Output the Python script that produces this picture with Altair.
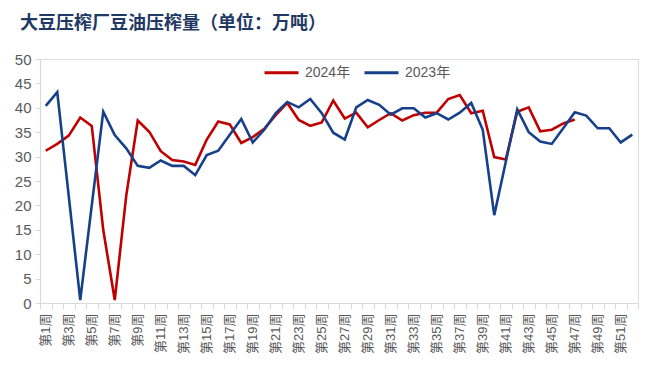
import altair as alt
import pandas as pd

weeks = [f"第{i}周" for i in range(1, 53)]

y2023 = [40.4, 43.2, 21.9, 0.6, 20.0, 39.2, 34.4, 31.7, 28.1, 27.7,
         29.2, 28.1, 28.1, 26.2, 30.3, 31.2, 34.5, 37.7, 32.9, 35.5,
         38.9, 41.2, 40.1, 41.8, 38.9, 34.9, 33.5, 40.1, 41.6, 40.6,
         38.6, 39.9, 39.9, 38.0, 38.9, 37.6, 39.0, 41.0, 35.5, 18.0,
         28.9, 39.7, 35.0, 33.1, 32.6, 35.8, 39.1, 38.4, 35.8, 35.8,
         32.9, 34.5]

y2024 = [31.2, 32.6, 34.3, 38.0, 36.3, 15.0, 0.6, 22.0, 37.4, 35.1,
         31.1, 29.3, 29.0, 28.3, 33.5, 37.2, 36.6, 32.8, 34.0, 35.7,
         38.5, 41.0, 37.5, 36.3, 37.0, 41.5, 37.8, 39.0, 36.0, 37.5,
         38.9, 37.4, 38.5, 39.0, 39.0, 41.8, 42.6, 38.9, 39.4, 29.9,
         29.4, 39.2, 40.1, 35.2, 35.5, 36.8, 37.6]

series = ["2024年", "2023年"]
colors = ["#C00000", "#17408B"]

rows = []
for w, v in zip(weeks, y2024):
    rows.append({"week": w, "value": v, "series": series[0]})
for w, v in zip(weeks, y2023):
    rows.append({"week": w, "value": v, "series": series[1]})
df = pd.DataFrame(rows)

FONT = "Liberation Sans, Noto Sans CJK SC"

chart = alt.Chart(df).mark_line(strokeWidth=2.6).encode(
    x=alt.X("week:N", sort=weeks, title=None,
            scale=alt.Scale(domain=weeks, paddingInner=0, paddingOuter=0),
            axis=alt.Axis(
                labelAngle=-90, labelAlign="right", labelBaseline="middle",
                labelExpr="test(/[13579]周$/, datum.value) ? datum.value : ''",
                labelFontSize=13, labelColor="#595959", labelFont=FONT,
                labelPadding=4, labelOverlap=False,
                tickBand="extent", tickSize=6, tickColor="#D9D9D9",
                domainColor="#D9D9D9", domainWidth=1.2, grid=False)),
    y=alt.Y("value:Q", title=None,
            scale=alt.Scale(domain=[0, 50], nice=False),
            axis=alt.Axis(values=[0, 5, 10, 15, 20, 25, 30, 35, 40, 45, 50],
                          labelFontSize=15, labelColor="#595959", labelFont=FONT,
                          labelPadding=4, tickSize=5, tickColor="#D9D9D9",
                          domainColor="#D9D9D9", domainWidth=1.2, grid=False)),
    color=alt.Color("series:N", sort=series,
                    scale=alt.Scale(domain=series, range=colors),
                    legend=alt.Legend(title=None, orient="none", direction="horizontal",
                                      legendX=223, legendY=-5,
                                      symbolType="stroke", symbolSize=1156,
                                      symbolStrokeWidth=3, labelFontSize=14,
                                      labelColor="#595959", labelFont=FONT,
                                      labelOffset=5, columnPadding=7, padding=0)),
    detail="series:N",
).properties(
    width=598, height=244,
    autosize=alt.AutoSizeParams(type="none"),
    padding={"left": 32, "top": 51, "right": 14, "bottom": 62},
    title=alt.TitleParams(
        "大豆压榨厂豆油压榨量（单位：万吨）",
        anchor="start", frame="group", dx=-20, offset=19, baseline="top",
        fontSize=18, fontWeight="bold", color="#1F3864", font="Noto Sans CJK SC"),
).configure_view(stroke=None).configure(background="white")

chart.save("out.html", embed_options={"renderer": "svg", "actions": False})
